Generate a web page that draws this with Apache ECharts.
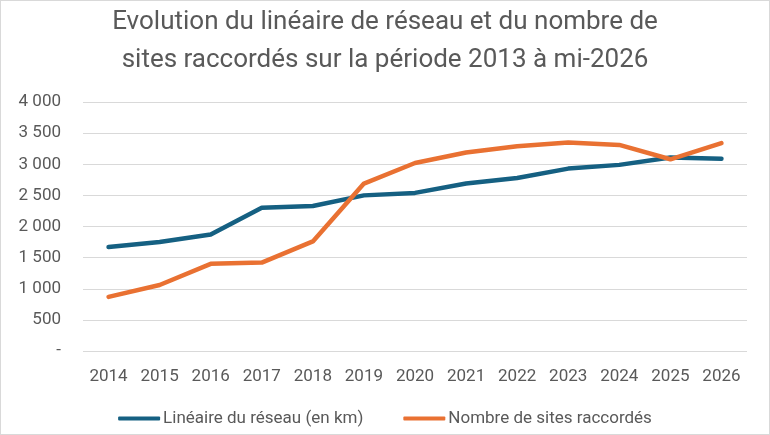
<!DOCTYPE html>
<html lang="fr">
<head>
    <meta charset="UTF-8">
    <title>Evolution du linéaire de réseau</title>
    <script src="https://cdn.jsdelivr.net/npm/echarts@6/dist/echarts.min.js"></script>
    <style>
        html, body { margin: 0; padding: 0; background: #fff; }
        #chart { width: 768px; height: 433px; border: 1px solid #d9d9d9; }
    </style>
</head>
<body>
    <div id="chart"></div>
    <script>
        // years on the x axis
        var years = ['2014', '2015', '2016', '2017', '2018', '2019', '2020',
                     '2021', '2022', '2023', '2024', '2025', '2026'];
        // réseau length, km
        var lineaire = [1670, 1750, 1870, 2300, 2330, 2500, 2540,
                        2690, 2780, 2930, 2990, 3110, 3090];
        // connected sites
        var sites = [870, 1060, 1400, 1420, 1760, 2690, 3020,
                     3190, 3290, 3350, 3310, 3080, 3340];
        var seriesNames = ['Linéaire du réseau (en km)', 'Nombre de sites raccordés'];
        var titleText = 'Evolution du linéaire de réseau et du nombre de\nsites raccordés sur la période 2013 à mi-2026';

        var grey = '#595959';
        var font = 'Roboto, "Liberation Sans", sans-serif';

        var chartDom = document.getElementById('chart');
        var myChart = echarts.init(chartDom);

        function fmt(v) {
            if (v === 0) return '-';
            var s = String(v);
            if (v >= 1000) s = s.slice(0, s.length - 3) + ' ' + s.slice(-3);
            return s;
        }

        var option = {
            animation: false,
            textStyle: { fontFamily: font },
            title: {
                text: titleText,
                left: 'center',
                top: 2,
                padding: 0,
                textStyle: {
                    color: grey,
                    fontSize: 26,
                    fontWeight: 'normal',
                    lineHeight: 38,
                    fontFamily: font
                }
            },
            legend: {
                bottom: 2,
                left: 'center',
                itemWidth: 42,
                itemHeight: 4,
                itemGap: 40,
                icon: 'roundRect',
                textStyle: { color: grey, fontSize: 17, padding: [0, 0, 0, -2] },
                data: seriesNames
            },
            grid: {
                left: 82,
                right: 22,
                top: 101,
                bottom: 83,
                containLabel: false
            },
            xAxis: {
                type: 'category',
                data: years,
                boundaryGap: true,
                axisLine: { show: false },
                axisTick: { show: false },
                axisLabel: { color: grey, fontSize: 17, margin: 17 }
            },
            yAxis: {
                type: 'value',
                min: 0,
                max: 4000,
                interval: 500,
                axisLine: { show: false },
                axisTick: { show: false },
                axisLabel: { color: grey, fontSize: 17, margin: 22, formatter: fmt },
                splitLine: { lineStyle: { color: '#d9d9d9', width: 1 } }
            },
            series: [
                {
                    name: seriesNames[0],
                    type: 'line',
                    data: lineaire,
                    symbol: 'none',
                    color: '#156082',
                    lineStyle: { width: 4.5, cap: 'round', join: 'round' }
                },
                {
                    name: seriesNames[1],
                    type: 'line',
                    data: sites,
                    symbol: 'none',
                    color: '#E97132',
                    lineStyle: { width: 4.5, cap: 'round', join: 'round' }
                }
            ]
        };

        option && myChart.setOption(option);
    </script>
</body>
</html>
